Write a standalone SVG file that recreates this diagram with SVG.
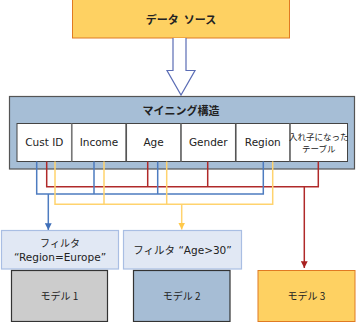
<svg xmlns="http://www.w3.org/2000/svg" width="357" height="322" viewBox="0 0 357 322">
<style>
.t{font-family:"DejaVu Sans","Noto Sans CJK JP",sans-serif;font-size:10.5px;fill:#222;text-anchor:middle}
.j{font-family:"Noto Sans CJK JP","DejaVu Sans",sans-serif;fill:#222;text-anchor:middle}
.b{font-weight:bold}
.col{fill:#fff;stroke:#444;stroke-width:1}
.bl{stroke:#4E7CC0;stroke-width:1.5;fill:none}
.rd{stroke:#B02A2A;stroke-width:1.5;fill:none}
.yl{stroke:#FFD36E;stroke-width:1.5;fill:none}
</style>
<defs>
<marker id="mb" viewBox="0 0 10 10" refX="10" refY="5" markerWidth="4.5" markerHeight="4.5" orient="auto" markerUnits="strokeWidth"><path d="M0,0L10,5L0,10z" fill="#3F6FB8"/></marker>
<marker id="mr" viewBox="0 0 10 10" refX="10" refY="5" markerWidth="4.5" markerHeight="4.5" orient="auto" markerUnits="strokeWidth"><path d="M0,0L10,5L0,10z" fill="#A82020"/></marker>
<marker id="my" viewBox="0 0 10 10" refX="10" refY="5" markerWidth="4.5" markerHeight="4.5" orient="auto" markerUnits="strokeWidth"><path d="M0,0L10,5L0,10z" fill="#FFC94A"/></marker>
</defs>
<rect width="357" height="322" fill="#fff"/>
<g id="datasource">
<rect x="72.5" y="-0.5" width="217" height="38.5" fill="#FED162" stroke="#E07A22" stroke-width="1"/>
<text class="j b" x="181" y="24" font-size="11" xml:space="preserve">データ  ソース</text>
</g>
<g id="bigarrow">
<path d="M173,38 V70.5 H167 L181,95 L195,70.5 H186 V38" fill="#fff" stroke="#5B6DB5" stroke-width="1.2"/>
</g>
<g id="structure">
<rect x="9.5" y="96.5" width="345" height="72.5" fill="#A6BED6" stroke="#555" stroke-width="1.2"/>
<text class="j b" x="181" y="115" font-size="11">マイニング構造</text>
<rect class="col" x="17" y="123.5" width="54.7" height="38"/>
<rect class="col" x="71.7" y="123.5" width="54.6" height="38"/>
<rect class="col" x="126.3" y="123.5" width="54.7" height="38"/>
<rect class="col" x="181" y="123.5" width="54.7" height="38"/>
<rect class="col" x="235.7" y="123.5" width="54.3" height="38"/>
<rect class="col" x="290" y="123.5" width="57.5" height="38"/>
<line x1="71.7" y1="123.5" x2="71.7" y2="161.5" stroke="#777" stroke-width="1.5"/>
<line x1="126.3" y1="123.5" x2="126.3" y2="161.5" stroke="#555" stroke-width="1.5"/>
<line x1="181" y1="123.5" x2="181" y2="161.5" stroke="#777" stroke-width="1.5"/>
<line x1="235.7" y1="123.5" x2="235.7" y2="161.5" stroke="#555" stroke-width="1.5"/>
<line x1="290" y1="123.5" x2="290" y2="161.5" stroke="#777" stroke-width="1.5"/>
<text class="t" x="44.3" y="146">Cust ID</text>
<text class="t" x="99" y="146">Income</text>
<text class="t" x="153.6" y="146">Age</text>
<text class="t" x="208.3" y="146">Gender</text>
<text class="t" x="262.8" y="146">Region</text>
<text class="j" x="318.7" y="140" font-size="8.5">入れ子になった</text>
<text class="j" x="318.7" y="152" font-size="8.5">テーブル</text>
</g>
<g id="connectors">
<path class="rd" d="M46.7,161.5 V186.7 H318.3 V161.5 M147.7,161.5 V186.7 M207.7,161.5 V186.7"/>
<path class="rd" d="M304.3,186.7 V268" marker-end="url(#mr)"/>
<path class="bl" d="M36.7,161.5 V194 H263.3 V161.5 M94,161.5 V194 M157.7,161.5 V194"/>
<path class="bl" d="M48.3,194 V230" marker-end="url(#mb)"/>
<path class="yl" d="M55,161.5 V204.3 H272.7 V161.5 M104,161.5 V204.3 M166.7,161.5 V204.3"/>
<path class="yl" d="M181.7,204.3 V229.5" marker-end="url(#my)"/>
</g>
<g id="filter1">
<rect x="1.5" y="230.5" width="117" height="38.5" fill="#E1E8F4" stroke="#A9BEE3" stroke-width="1.2"/>
<text class="j" x="60" y="247" font-size="10">フィルタ</text>
<text class="t" x="60" y="261" font-size="10">“Region=Europe”</text>
</g>
<g id="filter2">
<rect x="123.5" y="230.5" width="118" height="38.5" fill="#E1E8F4" stroke="#A9BEE3" stroke-width="1.2"/>
<text class="t" x="182.5" y="254" font-size="10">フィルタ “Age&gt;30”</text>
</g>
<g id="model1">
<rect x="11.5" y="270.5" width="96" height="51" fill="#CCCCCC" stroke="#333" stroke-width="1.2"/>
<text class="j" x="59.5" y="300" font-size="10">モデル 1</text>
</g>
<g id="model2">
<rect x="133.5" y="270.5" width="96.5" height="51" fill="#A6BDD5" stroke="#333" stroke-width="1.2"/>
<text class="j" x="181.7" y="300" font-size="10">モデル 2</text>
</g>
<g id="model3">
<rect x="258" y="270.5" width="97" height="51" fill="#FED162" stroke="#E07A22" stroke-width="1"/>
<text class="j" x="306.5" y="300" font-size="10">モデル 3</text>
</g>
</svg>
